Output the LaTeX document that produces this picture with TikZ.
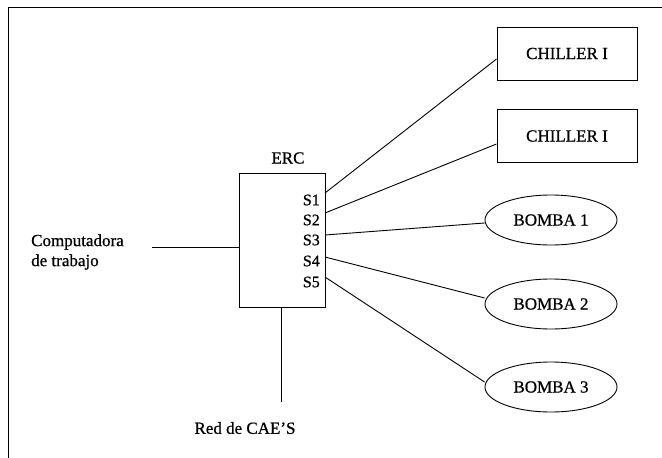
\documentclass[tikz,border=0pt]{standalone}
\usepackage{fontspec}
\setmainfont{Liberation Serif}
\newfontfamily\heavyserif{Liberation Serif}[RawFeature={embolden=0.8}, Ligatures=TeX]
\usetikzlibrary{shapes.geometric}
\begin{document}
\begin{tikzpicture}[x=1pt,y=-1pt,
  every node/.style={font=\heavyserif\fontsize{17}{20}\selectfont, inner sep=0pt},
  chiller/.style={draw, line width=1pt, minimum width=140pt, minimum height=53pt},
  bomba/.style={draw, ellipse, line width=0.9pt, minimum width=132pt, minimum height=50pt},
  erc/.style={draw, line width=1pt, minimum width=86pt, minimum height=134pt},
  port/.style={anchor=east, font=\heavyserif\fontsize{16}{18}\selectfont},
  wire/.style={line width=0.9pt}]
\useasboundingbox (0,0) rectangle (662,458);
% frame
\coordinate (f1) at (8,7);
\coordinate (f2) at (662,7);
\coordinate (f3) at (8,458);
\draw[line width=0.9pt] (f2) -- (f1) -- (f3);
% nodes
\node[chiller] (c1) at (567,53.5) {CHILLER I};
\node[chiller] (c2) at (567,136) {CHILLER I};
\node[bomba] (b1) at (551,220) {BOMBA 1};
\node[bomba] (b2) at (551,304) {BOMBA 2};
\node[bomba] (b3) at (551,387) {BOMBA 3};
\node[erc] (erc) at (282,240) {};
\node (erclabel) at (288,158) {ERC};
\node[port] (s1) at (320,200) {S1};
\node[port] (s2) at (320,220) {S2};
\node[port] (s3) at (320,240) {S3};
\node[port] (s4) at (320,261) {S4};
\node[port] (s5) at (320,282) {S5};
\node[anchor=west, align=left] (comp) at (31,252) {Computadora\\de trabajo};
\node (red) at (245,428) {Red de CAE’S};
% ports on ERC
\coordinate (p1) at (325,193);
\coordinate (p2) at (325,213);
\coordinate (p3) at (325,235);
\coordinate (p4) at (325,257);
\coordinate (p5) at (325,277);
\coordinate (cin) at (152,247);
\coordinate (cerc) at (239,247);
\coordinate (rtop) at (281,307);
\coordinate (rbot) at (281,402);
% connectors
\draw[wire] (p1) -- ([yshift=-5.5pt]c1.west);
\draw[wire] (p2) -- ([yshift=-8pt]c2.west);
\draw[wire] (p3) -- ([yshift=-3pt]b1.west);
\draw[wire] (p4) -- ([yshift=6pt]b2.west);
\draw[wire] (p5) -- ([yshift=5pt]b3.west);
\draw[wire] (cin) -- (cerc);
\draw[wire] (rtop) -- (rbot);
\end{tikzpicture}
\end{document}
